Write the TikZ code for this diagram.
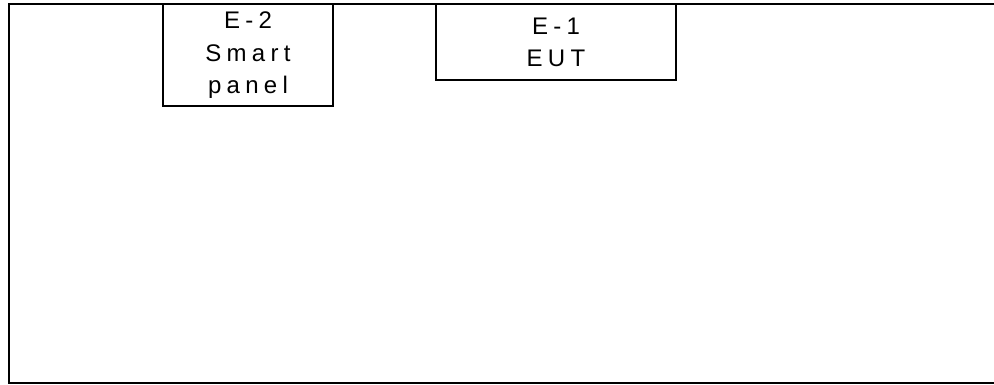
\documentclass[tikz,border=0pt]{standalone}
\usepackage{fontspec}
\setmainfont{Liberation Sans}[LetterSpace=22]
\begin{document}
\begin{tikzpicture}[x=1pt,y=-1pt,line width=2pt,
  unit/.style={draw,rectangle,inner sep=0pt,align=center,
    font=\fontsize{24}{32.5}\selectfont}]
\useasboundingbox (0,0) rectangle (994,385);
\clip (0,0) rectangle (994,385);
% enclosure frame, open towards the right edge
\coordinate (ftr) at (1000,4.5);
\coordinate (ftl) at (8.5,4.5);
\coordinate (fbl) at (8.5,383);
\coordinate (fbr) at (1000,383);
\draw (ftr) -- (ftl) -- (fbl) -- (fbr);
% equipment units
\node[unit,minimum width=170pt,minimum height=101.5pt] (e2) at (248,55.25)
  {E-2\\Smart\\panel};
\node[unit,minimum width=240pt,minimum height=75.5pt] (e1) at (556,42.25)
  {E-1\\EUT};
\end{tikzpicture}
\end{document}
